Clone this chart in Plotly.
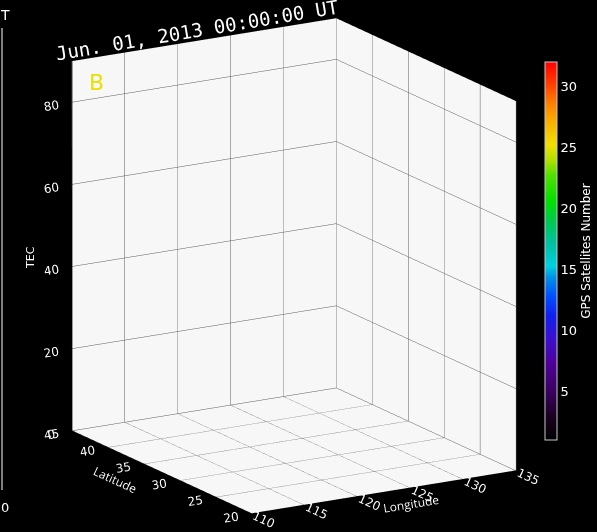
import plotly.graph_objects as go
import numpy as np

# ---- data / axis definitions ----
lon_range = [110, 135]
lat_range = [20, 45]
tec_range = [0, 90]
lon_ticks = [110, 115, 120, 125, 130, 135]
lat_ticks = [20, 25, 30, 35, 40, 45]
tec_ticks = [0, 20, 40, 60, 80]
cbar_range = [1, 32]
cbar_ticks = [5, 10, 15, 20, 25, 30]
title_text = "Jun. 01, 2013 00:00:00 UT"

rainbow = [
    [0.00, "#000000"], [0.06, "#1a0020"], [0.13, "#3a0060"], [0.20, "#4f0098"],
    [0.27, "#3a10d0"], [0.33, "#1020f0"], [0.38, "#0050ff"], [0.43, "#0090e8"],
    [0.46, "#00d0e0"], [0.52, "#00c0a0"], [0.58, "#00c850"], [0.63, "#00e000"],
    [0.70, "#50e000"], [0.74, "#b0e000"], [0.78, "#f0e000"], [0.84, "#f8b000"],
    [0.89, "#ff8000"], [0.94, "#ff4000"], [1.00, "#ff0000"],
]

fig = go.Figure()

# fully transparent trace carrying the colour bar (no visible data in the panel)
fig.add_trace(go.Scatter3d(
    x=[lon_range[0], lon_range[1]], y=[lat_range[0], lat_range[1]],
    z=[tec_range[0], tec_range[0]], mode="markers",
    marker=dict(
        color=cbar_range, cmin=cbar_range[0], cmax=cbar_range[1],
        colorscale=rainbow, showscale=True, size=1, opacity=0,
        colorbar=dict(
            x=545 / 597, xanchor="left", y=1 - 251 / 532, yanchor="middle",
            len=378 / 532, ypad=0, xpad=0, thickness=12,
            outlinecolor="#c8c8c8", outlinewidth=1,
            tickvals=cbar_ticks, ticks="",
            tickfont=dict(color="white", size=13, family="DejaVu Sans"),
            title=dict(text="GPS Satellites Number", side="right",
                       font=dict(color="white", size=12, family="DejaVu Sans")),
        ),
    ),
    showlegend=False, hoverinfo="skip",
))

axis_common = dict(
    showbackground=True, backgroundcolor="#f7f7f7",
    showgrid=True, gridcolor="#5a5a5a", gridwidth=1,
    showline=True, linecolor="black", linewidth=2,
    zeroline=False, ticks="inside", ticklen=6, tickcolor="black",
    tickfont=dict(color="white", size=12, family="DejaVu Sans"),
    showspikes=False,
)

d = np.array([-0.4906, -0.8273, 0.2735])
eye = d * 1.75
k = 1.445  # orthographic zoom is carried by the aspect ratio

fig.update_layout(
    width=597, height=532,
    paper_bgcolor="black", plot_bgcolor="black",
    margin=dict(l=0, r=0, t=0, b=0, autoexpand=False),
    scene=dict(
        domain=dict(x=[0, 0.985], y=[0, 1]),
        xaxis=dict(range=lon_range, tickvals=lon_ticks,
                   title=dict(text="Longitude", font=dict(color="white", size=12)),
                   **axis_common),
        yaxis=dict(range=lat_range, tickvals=lat_ticks,
                   title=dict(text="Latitude", font=dict(color="white", size=12)),
                   **axis_common),
        zaxis=dict(range=tec_range, tickvals=tec_ticks, title=dict(text=""),
                   **axis_common),
        aspectmode="manual", aspectratio=dict(x=0.8 * k, y=0.917 * k, z=1.0 * k),
        camera=dict(eye=dict(x=eye[0], y=eye[1], z=eye[2]),
                    up=dict(x=0, y=0, z=1), center=dict(x=0, y=0, z=0),
                    projection=dict(type="orthographic")),
        bgcolor="black",
    ),
    annotations=[
        dict(text=title_text, x=197 / 597, y=1 - 30 / 532, xref="paper", yref="paper",
             xanchor="center", yanchor="middle",
             showarrow=False, textangle=-9.5,
             font=dict(color="white", size=19, family="DejaVu Sans Mono")),
        dict(text="B", x=96 / 597, y=1 - 83 / 532, xref="paper", yref="paper",
             xanchor="center", yanchor="middle",
             showarrow=False, font=dict(color="#e8e000", size=22, family="DejaVu Sans")),
        dict(text="TEC", x=30 / 597, y=1 - 258 / 532, xref="paper", yref="paper",
             xanchor="center", yanchor="middle", textangle=-90,
             showarrow=False, font=dict(color="white", size=11, family="DejaVu Sans")),
        dict(text="T", x=5 / 597, y=1 - 15 / 532, xref="paper", yref="paper",
             xanchor="center", yanchor="middle",
             showarrow=False, font=dict(color="white", size=14, family="DejaVu Sans")),
        dict(text="0", x=5 / 597, y=1 - 507 / 532, xref="paper", yref="paper",
             xanchor="center", yanchor="middle",
             showarrow=False, font=dict(color="white", size=13, family="DejaVu Sans")),
    ],
    shapes=[dict(type="line", xref="paper", yref="paper",
                 x0=2 / 597, x1=2 / 597, y0=1 - 28 / 532, y1=1 - 490 / 532,
                 line=dict(color="white", width=1))],
)

fig.write_html("out.html", config={"displayModeBar": False},
               post_script="document.body.style.margin='0';")
